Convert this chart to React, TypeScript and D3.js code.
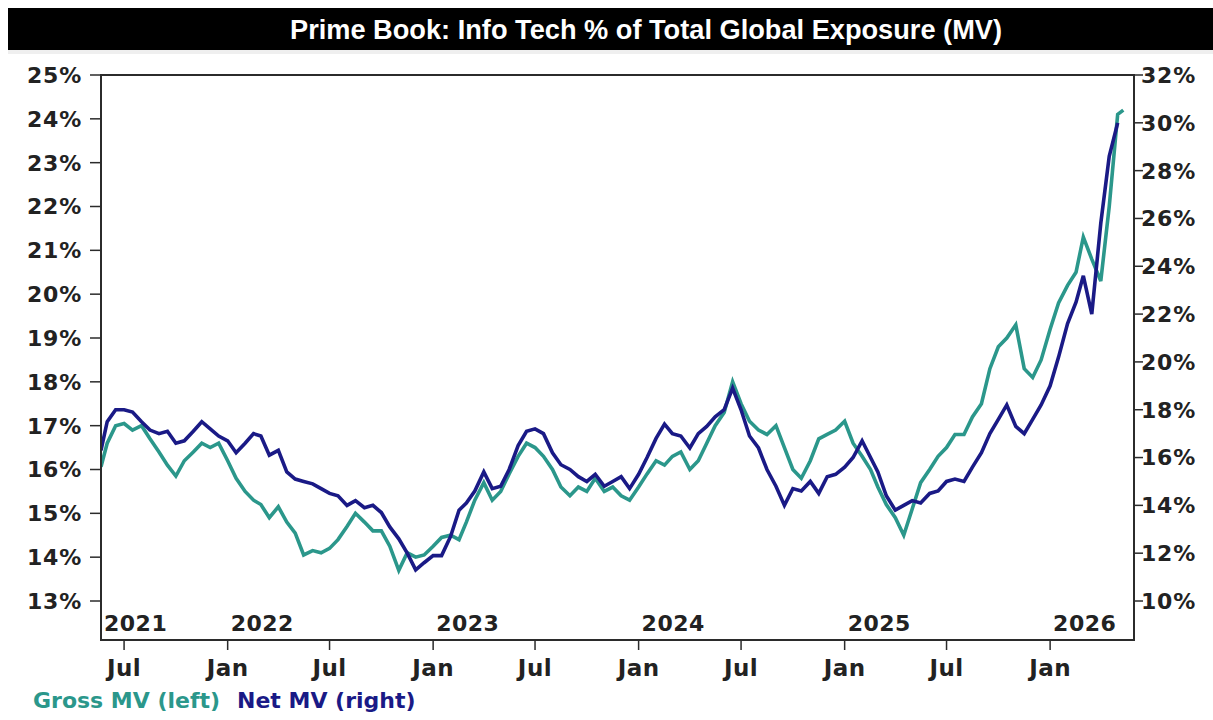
import React from "react";
import * as d3 from "d3";

const dates = [
  "2021-05-21","2021-06-01","2021-06-16","2021-07-01","2021-07-16","2021-08-01","2021-08-16","2021-09-01","2021-09-16","2021-10-01","2021-10-16","2021-11-01","2021-11-16","2021-12-01","2021-12-16",
  "2022-01-01","2022-01-16","2022-02-01","2022-02-16","2022-03-01","2022-03-16","2022-04-01","2022-04-16","2022-05-01","2022-05-16","2022-06-01","2022-06-16","2022-07-01","2022-07-16","2022-08-01","2022-08-16","2022-09-01","2022-09-16","2022-10-01","2022-10-16","2022-11-01","2022-11-16","2022-12-01","2022-12-16",
  "2023-01-01","2023-01-16","2023-02-01","2023-02-16","2023-03-01","2023-03-16","2023-04-01","2023-04-16","2023-05-01","2023-05-16","2023-06-01","2023-06-16","2023-07-01","2023-07-16","2023-08-01","2023-08-16","2023-09-01","2023-09-16","2023-10-01","2023-10-16","2023-11-01","2023-11-16","2023-12-01","2023-12-16",
  "2024-01-01","2024-01-16","2024-02-01","2024-02-16","2024-03-01","2024-03-16","2024-04-01","2024-04-16","2024-05-01","2024-05-16","2024-06-01","2024-06-16","2024-07-01","2024-07-16","2024-08-01","2024-08-16","2024-09-01","2024-09-16","2024-10-01","2024-10-16","2024-11-01","2024-11-16","2024-12-01","2024-12-16",
  "2025-01-01","2025-01-16","2025-02-01","2025-02-16","2025-03-01","2025-03-16","2025-04-01","2025-04-16","2025-05-01","2025-05-16","2025-06-01","2025-06-16","2025-07-01","2025-07-16","2025-08-01","2025-08-16","2025-09-01","2025-09-16","2025-10-01","2025-10-16","2025-11-01","2025-11-16","2025-12-01","2025-12-16",
  "2026-01-01","2026-01-16","2026-02-01","2026-02-16","2026-03-01","2026-03-16","2026-04-01","2026-04-16","2026-05-01","2026-05-11"
];

const grossMV = [
  16.06,16.6,17.0,17.05,16.9,17.0,16.7,16.4,16.1,15.85,16.2,16.4,16.6,16.5,16.6,
  16.2,15.8,15.5,15.3,15.2,14.9,15.15,14.8,14.55,14.05,14.15,14.1,14.2,14.4,14.7,15.0,14.8,14.6,14.6,14.25,13.7,14.1,14.0,14.05,
  14.25,14.45,14.5,14.4,14.8,15.3,15.7,15.3,15.5,15.9,16.3,16.6,16.5,16.3,16.0,15.6,15.4,15.6,15.5,15.8,15.5,15.6,15.4,15.3,
  15.6,15.9,16.2,16.1,16.3,16.4,16.0,16.2,16.6,17.0,17.3,18.0,17.5,17.1,16.9,16.8,17.0,16.5,16.0,15.8,16.2,16.7,16.8,16.9,
  17.1,16.6,16.3,16.0,15.6,15.2,14.9,14.5,15.1,15.7,16.0,16.3,16.5,16.8,16.8,17.2,17.5,18.3,18.8,19.0,19.3,18.3,18.1,18.5,
  19.2,19.8,20.2,20.5,21.3,20.8,20.3,22.0,24.1,24.2
];

const netMV = [
  16.3,17.5,18.0,18.0,17.9,17.5,17.15,17.0,17.1,16.6,16.7,17.1,17.5,17.2,16.9,
  16.7,16.2,16.6,17.0,16.9,16.1,16.3,15.4,15.1,15.0,14.9,14.7,14.5,14.4,14.0,14.2,13.9,14.0,13.7,13.1,12.6,12.0,11.3,11.6,
  11.9,11.9,12.7,13.8,14.1,14.6,15.4,14.7,14.8,15.5,16.5,17.1,17.2,17.0,16.2,15.7,15.5,15.2,15.0,15.3,14.8,15.0,15.2,14.7,
  15.3,16.0,16.8,17.4,17.0,16.9,16.4,17.0,17.3,17.7,18.0,18.9,18.0,16.9,16.4,15.5,14.8,14.0,14.7,14.6,15.0,14.5,15.2,15.3,
  15.6,16.0,16.7,16.0,15.4,14.4,13.8,14.0,14.2,14.1,14.5,14.6,15.0,15.1,15.0,15.6,16.2,17.0,17.6,18.2,17.3,17.0,17.6,
  18.2,19.0,20.2,21.6,22.5,23.6,22.0,25.8,28.6,30.0
];

const leftTicks = [13, 14, 15, 16, 17, 18, 19, 20, 21, 22, 23, 24, 25];
const rightTicks = [10, 12, 14, 16, 18, 20, 22, 24, 26, 28, 30, 32];
const monthTickDates = ["2021-07-01","2022-01-01","2022-07-01","2023-01-01","2023-07-01","2024-01-01","2024-07-01","2025-01-01","2025-07-01","2026-01-01"];
const monthTickLabels = ["Jul","Jan","Jul","Jan","Jul","Jan","Jul","Jan","Jul","Jan"];
const yearLabelDates = ["2021-05-21","2022-01-01","2023-01-01","2024-01-01","2025-01-01","2026-01-01"];
const yearLabels = ["2021","2022","2023","2024","2025","2026"];

const titleText = "Prime Book: Info Tech % of Total Global Exposure (MV)";
const legendGross = "Gross MV (left)";
const legendNet = "Net MV (right)";

const W = 1213, H = 720;
const L = 101, R = 1134, T = 75, B = 640;
const TEAL = "#2b978b";
const NAVY = "#1a1a86";
const AX = "#2b2b2b";
const FONT = "'DejaVu Sans', Verdana, sans-serif";

export default function App() {
  const parse = d3.timeParse("%Y-%m-%d");
  const x = d3.scaleTime().domain([parse("2021-05-21")!, parse("2026-05-30")!]).range([L, R]);
  const yL = d3.scaleLinear().domain([12.1103, 25]).range([B, T]);
  const yR = d3.scaleLinear().domain([8.369, 32]).range([B, T]);
  const pts = dates.map((d, i) => ({ d: parse(d)!, g: grossMV[i], n: netMV[i] }));
  const lineG = d3.line<any>().x((p) => x(p.d)).y((p) => yL(p.g));
  const lineN = d3.line<any>().x((p) => x(p.d)).y((p) => yR(p.n));

  return (
    <svg width={W} height={H} style={{ position: "absolute", left: 0, top: 0, background: "#fff" }}>
      <rect x={0} y={0} width={W} height={H} fill="#fff" />
      <rect x={8} y={8} width={W - 8} height={42} fill="#000" />
      <rect x={8} y={50} width={W - 8} height={4} fill="#efefef" />
      <text x={646} y={39} fill="#fff" fontFamily="'Liberation Sans', Arial, sans-serif" fontWeight="bold" fontSize={27} textAnchor="middle" textLength={712} lengthAdjust="spacingAndGlyphs">{titleText}</text>

      <defs>
        <clipPath id="plotclip"><rect x={L} y={T} width={R - L} height={B - T} /></clipPath>
      </defs>
      <g clipPath="url(#plotclip)">
        <path d={lineG(pts) || ""} fill="none" stroke={TEAL} strokeWidth={3.6} strokeLinejoin="miter" />
        <path d={lineN(pts) || ""} fill="none" stroke={NAVY} strokeWidth={3.6} strokeLinejoin="miter" />
      </g>

      <rect x={L} y={T} width={R - L} height={B - T} fill="none" stroke={AX} strokeWidth={2} />

      {leftTicks.map((t) => (
        <g key={"l" + t}>
          <line x1={L - 11} x2={L} y1={yL(t)} y2={yL(t)} stroke={AX} strokeWidth={1.5} />
          <text x={L - 19} y={yL(t)} dy="0.36em" textAnchor="end" fontFamily={FONT} fontWeight="bold" fontSize={22} letterSpacing={0.8} fill="#222">{t + "%"}</text>
        </g>
      ))}
      {rightTicks.map((t) => (
        <g key={"r" + t}>
          <line x1={R} x2={R + 9} y1={yR(t)} y2={yR(t)} stroke={AX} strokeWidth={1.5} />
          <text x={R + 7} y={yR(t)} dy="0.36em" textAnchor="start" fontFamily={FONT} fontWeight="bold" fontSize={22} letterSpacing={0.8} fill="#222">{t + "%"}</text>
        </g>
      ))}
      {monthTickDates.map((d, i) => {
        const xp = x(parse(d)!);
        return (
          <g key={"m" + d}>
            <line x1={xp} x2={xp} y1={B} y2={B + 10} stroke={AX} strokeWidth={1.5} />
            <text x={xp} y={676} textAnchor="middle" fontFamily={FONT} fontWeight="bold" fontSize={23} letterSpacing={0.5} fill="#222">{monthTickLabels[i]}</text>
          </g>
        );
      })}
      {yearLabelDates.map((d, i) => (
        <text key={"y" + d} x={x(parse(d)!) + 3} y={631} textAnchor="start" fontFamily={FONT} fontWeight="bold" fontSize={22} letterSpacing={0.5} fill="#222">{yearLabels[i]}</text>
      ))}

      <text x={33} y={708} fontFamily={FONT} fontWeight="bold" fontSize={22} fill={TEAL}>{legendGross}</text>
      <text x={237} y={708} fontFamily={FONT} fontWeight="bold" fontSize={22} fill={NAVY}>{legendNet}</text>
    </svg>
  );
}
